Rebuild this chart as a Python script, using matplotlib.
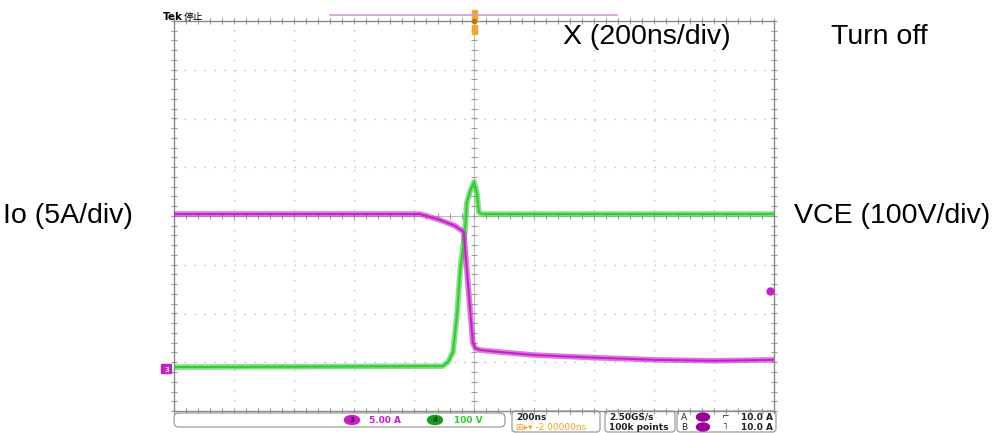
import numpy as np
import matplotlib.pyplot as plt
from matplotlib.patches import FancyBboxPatch, Ellipse, Rectangle

W, H = 993, 433

# scope traces, time in ns (200 ns/div), level in divisions
io_t = [-1000, -180, -114, -64, -34, -4, 4, 20, 86, 196, 300, 420, 600, 800, 1000]
io_v = [0.04, 0.04, -0.08, -0.20, -0.33, -2.60, -2.71, -2.75, -2.79, -2.85, -2.88, -2.91, -2.95, -2.97, -2.95]

vce_t = [-1000, -104, -86, -70, -56, -46, -30, -24, -14, 0, 10, 16, 26, 60, 1000]
vce_v = [-3.10, -3.08, -2.99, -2.79, -1.99, -1.11, -0.29, 0.27, 0.49, 0.70, 0.47, 0.08, 0.04, 0.04, 0.04]

MAG = '#c81ec8'
GRN = '#2ecc2e'
GRID = '#c4c4c4'

fig = plt.figure(figsize=(W / 100, H / 100), dpi=100)
fig.patch.set_facecolor('white')

ax = fig.add_axes([174 / W, (H - 411) / H, 600 / W, 390 / H])
ax.set_xlim(-1000, 1000)
ax.set_ylim(-4, 4)
ax.set_xticks([])
ax.set_yticks([])
for s in ax.spines.values():
    s.set_color('#8a8a8a')
    s.set_linewidth(1.0)

# graticule
for i in range(-4, 5):
    if i != 0:
        ax.axvline(i * 200, color=GRID, lw=1.0, ls=(0, (1.2, 6)), zorder=1)
for j in range(-3, 4):
    if j != 0:
        ax.axhline(j, color=GRID, lw=1.0, ls=(0, (1.2, 6)), zorder=1)
ax.axvline(0, color='#b0b0b0', lw=0.6, zorder=1)
ax.axhline(0, color='#b0b0b0', lw=0.6, zorder=1)
mx = np.arange(-1000, 1001, 40)
my = np.arange(-4, 4.01, 0.2)
ax.plot(mx, np.zeros_like(mx), ls='none', marker='|', ms=4, color='#9a9a9a', mew=0.8, zorder=1)
ax.plot(np.zeros_like(my), my, ls='none', marker='_', ms=4, color='#9a9a9a', mew=0.8, zorder=1)
ax.plot(mx, np.full_like(mx, 4.0, dtype=float), ls='none', marker='|', ms=5, color='#9a9a9a', mew=0.8, clip_on=False)
ax.plot(mx, np.full_like(mx, -4.0, dtype=float), ls='none', marker='|', ms=5, color='#9a9a9a', mew=0.8, clip_on=False)
ax.plot(np.full_like(my, -1000.0), my, ls='none', marker='_', ms=5, color='#9a9a9a', mew=0.8, clip_on=False)
ax.plot(np.full_like(my, 1000.0), my, ls='none', marker='_', ms=5, color='#9a9a9a', mew=0.8, clip_on=False)

# traces (band for the noise, thin core)
ax.plot(vce_t, vce_v, color=GRN, lw=4, alpha=0.6, solid_joinstyle='round', zorder=3)
ax.plot(vce_t, vce_v, color=GRN, lw=1.4, zorder=4)
ax.plot(io_t, io_v, color=MAG, lw=4, alpha=0.6, solid_joinstyle='round', zorder=3)
ax.plot(io_t, io_v, color=MAG, lw=1.4, zorder=4)

# overlay in pixel coordinates for the scope decorations
ov = fig.add_axes([0, 0, 1, 1])
ov.set_xlim(0, W)
ov.set_ylim(H, 0)
ov.axis('off')
ov.patch.set_alpha(0)

ov.text(163, 20, 'Tek', fontsize=7.5, fontweight='bold', va='baseline', ha='left')
ov.text(184, 20, '停止', fontsize=7, family=['Noto Sans CJK SC', 'DejaVu Sans'], va='baseline', ha='left')
ov.plot([330, 617], [15, 15], color='#d898d8', lw=1.2)
ov.add_patch(Rectangle((471.5, 10), 5, 9, color='#f0a830'))
ov.add_patch(Rectangle((471.5, 25), 5, 9, color='#f0a830'))
ov.plot([474], [21], marker='o', ms=3, color='#c07010')

# channel ground marker and trigger level marker
ov.add_patch(FancyBboxPatch((162, 365), 9, 8, boxstyle='round,pad=0.5', color=MAG))
ov.text(166.5, 369.5, '3', fontsize=5, color='white', ha='center', va='center', fontweight='bold')
ov.plot([770], [291], marker='o', ms=5, color=MAG)

# status bar
ov.add_patch(FancyBboxPatch((174, 413), 331, 14, boxstyle='round,pad=0,rounding_size=5', fc='white', ec='#909090', lw=0.8))
ov.add_patch(Ellipse((352, 420), 15, 9, color=MAG))
ov.text(352, 420.5, '3', fontsize=5, color='#4a004a', ha='center', va='center', fontweight='bold')
ov.text(369, 420.5, '5.00 A', fontsize=6.5, color=MAG, ha='left', va='center', fontweight='bold')
ov.add_patch(Ellipse((435, 420), 15, 9, color='#1a9a1a'))
ov.text(435, 420.5, '4', fontsize=5, color='#003300', ha='center', va='center', fontweight='bold')
ov.text(454, 420.5, '100 V', fontsize=6.5, color=GRN, ha='left', va='center', fontweight='bold')

ov.add_patch(FancyBboxPatch((512, 411), 88, 21, boxstyle='round,pad=0,rounding_size=3', fc='none', ec='#909090', lw=0.8))
ov.text(516, 417, '200ns', fontsize=6.5, color='#222222', ha='left', va='center', fontweight='bold')
ov.text(516, 427, '⊞▸▾ -2.00000ns', fontsize=6.5, color='#f0a020', ha='left', va='center')
ov.add_patch(FancyBboxPatch((605, 411), 70, 21, boxstyle='round,pad=0,rounding_size=3', fc='none', ec='#909090', lw=0.8))
ov.text(609, 417, '2.50GS/s', fontsize=6.5, color='#222222', ha='left', va='center', fontweight='bold')
ov.text(609, 427, '100k points', fontsize=6.5, color='#222222', ha='left', va='center', fontweight='bold')
ov.add_patch(FancyBboxPatch((677, 411), 99, 21, boxstyle='round,pad=0,rounding_size=3', fc='none', ec='#909090', lw=0.8))
for yy, lab, edge in [(417, 'A', '⌐'), (427, 'B', '˥')]:
    ov.text(681, yy, lab, fontsize=6.5, color='#222222', ha='left', va='center')
    ov.add_patch(Ellipse((703, yy), 13, 8, color='#9a009a'))
    ov.text(722, yy, edge, fontsize=6.5, color='#222222', ha='left', va='center')
    ov.text(773, yy, '10.0 A', fontsize=6.5, color='#222222', ha='right', va='center', fontweight='bold')

# annotations
lab = dict(family='Liberation Sans', fontsize=20.5, color='black', va='center')
ov.text(563, 37, 'X (200ns/div)', ha='left', **lab)
ov.text(831, 37, 'Turn off', ha='left', **lab)
ov.text(3, 216, 'Io (5A/div)', ha='left', **lab)
ov.text(990, 216, 'VCE (100V/div)', ha='right', **lab)

fig.savefig('out.png', dpi=100)
